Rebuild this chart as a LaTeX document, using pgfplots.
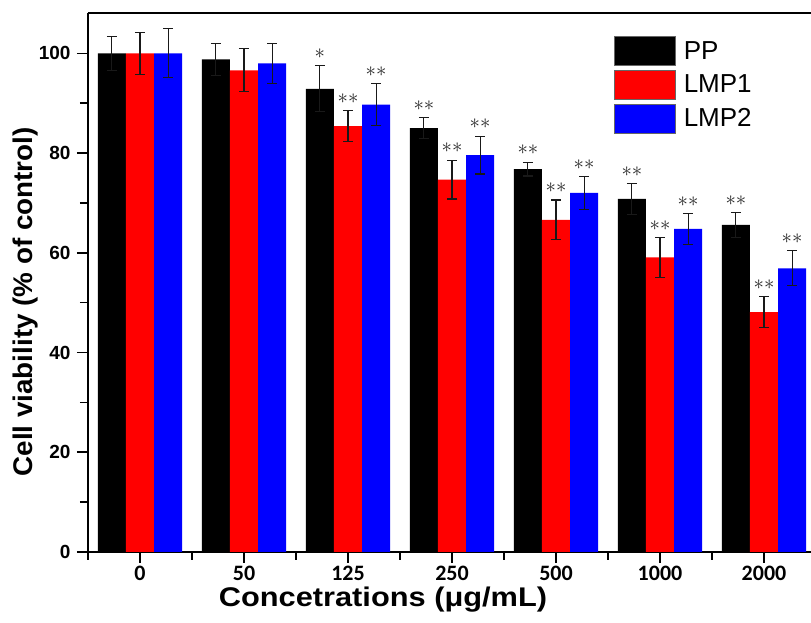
\documentclass[border=0pt]{standalone}
\usepackage{pgfplots}
\pgfplotsset{compat=1.18}
\usepackage{pgfplotstable}
\usepackage{graphicx}
\usepackage{fontspec}
\setmainfont{Liberation Sans}
\newfontfamily\carlito{Carlito}

\pgfplotstableread{
x y err sig
0 100 3.4 {}
1 98.8 3.2 {}
2 92.9 4.6 {$\ast$}
3 85.0 2.1 {$\ast\ast$}
4 76.8 1.4 {$\ast\ast$}
5 70.8 3.1 {$\ast\ast$}
6 65.6 2.5 {$\ast\ast$}
}\pp
\pgfplotstableread{
x y err sig
0 100 4.2 {}
1 96.6 4.3 {}
2 85.4 3.1 {$\ast\ast$}
3 74.7 3.9 {$\ast\ast$}
4 66.6 4.0 {$\ast\ast$}
5 59.1 4.0 {$\ast\ast$}
6 48.1 3.1 {$\ast\ast$}
}\lmpone
\pgfplotstableread{
x y err sig
0 100 4.9 {}
1 98.0 4.0 {}
2 89.7 4.2 {$\ast\ast$}
3 79.6 3.8 {$\ast\ast$}
4 72.0 3.3 {$\ast\ast$}
5 64.8 3.1 {$\ast\ast$}
6 56.9 3.5 {$\ast\ast$}
}\lmptwo

\pgfplotsset{
  barstyle/.style={draw=none,
    error bars/.cd, y dir=both, y explicit,
    error bar style={line width=1.1pt, black!90},
    error mark options={rotate=90, line width=1.1pt, black!90, mark size=5pt}},
}

\begin{document}
\begin{tikzpicture}
\begin{axis}[
  scale only axis, width=723pt, height=539pt,
  xmin=-0.5, xmax=6.452, ymin=0, ymax=108.1,
  ybar=0pt, bar width=0.27,
  axis lines=left, axis line style={-, line width=1.8pt},
  tick align=outside,
  xtick={0,...,6}, xticklabels={0,50,125,250,500,1000,2000},
  minor xtick={-0.5,0.5,...,5.5},
  ytick={0,20,...,100}, minor ytick={10,30,...,90},
  major tick length=11pt, minor tick length=8pt,
  every tick/.style={line width=1.6pt, black},
  /pgf/number format/assume math mode=true,
  yticklabel style={font=\bfseries\fontsize{19}{20}\selectfont, xshift=-3pt},
  xticklabel style={font=\carlito\bfseries\fontsize{22}{24}\selectfont},
  xlabel={\scalebox{1.14}[1]{Concetrations (μg/mL)}},
  ylabel={\scalebox{1.03}[1]{Cell viability (\% of control)}},
  xlabel style={at={(axis description cs:0.408,-0.1002)}, anchor=base, font=\bfseries\fontsize{27}{30}\selectfont},
  ylabel style={at={(axis description cs:-0.0761,0.464)}, anchor=base, font=\bfseries\fontsize{27}{30}\selectfont},
  legend style={at={(axis description cs:0.7275,0.957)}, anchor=north west, draw=none, fill=none,
    inner sep=0pt, row sep=4pt, font=\fontsize{26}{28}\selectfont, nodes={inner sep=0pt},
    cells={anchor=west}, /tikz/every odd column/.append style={column sep=8pt}},
  legend image code/.code={\draw[#1, draw=black!60, line width=0.6pt] (0pt,-14.5pt) rectangle (61pt,14.5pt);},
  nodes near coords, point meta=explicit symbolic,
  visualization depends on={\thisrow{err} \as \errv},
  nodes near coords style={anchor=center, yshift={\errv*4.986pt+12pt}, font=\fontsize{21}{22}\selectfont, text=black!85},
]
\addplot[fill=black, barstyle] table[x=x, y=y, y error=err, meta=sig]{\pp};
\addplot[fill=red, barstyle] table[x=x, y=y, y error=err, meta=sig]{\lmpone};
\addplot[fill=blue, barstyle] table[x=x, y=y, y error=err, meta=sig]{\lmptwo};
\legend{PP, LMP1, LMP2}
\draw[line width=1.8pt] (rel axis cs:0,1) -- (rel axis cs:1,1);
\coordinate (bl) at (rel axis cs:0,0);
\end{axis}
\pgfresetboundingbox
\path[use as bounding box] ([shift={(-88pt,-71pt)}]bl) rectangle ([shift={(723pt,552pt)}]bl);
\end{tikzpicture}
\end{document}
